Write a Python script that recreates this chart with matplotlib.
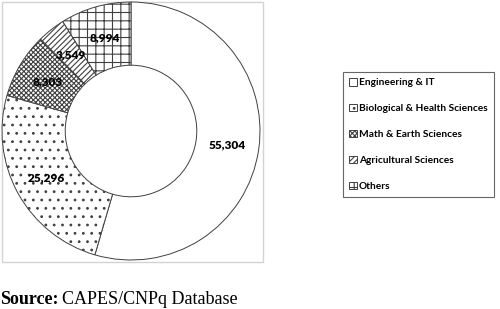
import matplotlib
matplotlib.use("Agg")
import matplotlib.pyplot as plt
from matplotlib.patches import Rectangle

categories = ["Engineering & IT", "Biological & Health Sciences",
              "Math & Earth Sciences", "Agricultural Sciences", "Others"]
values = [55304, 25296, 8303, 3549, 8994]
value_labels = ["55,304", "25,296", "8,303", "3,549", "8,994"]
hatches = ["", "..", "xxxxxxx", "//////", "++"]

plt.rcParams['hatch.linewidth'] = 0.8

W, H = 500, 309
fig = plt.figure(figsize=(W / 100, H / 100), dpi=100)

cx, cy, R = 131, 131, 129
ax = fig.add_axes([(cx - R) / W, (H - cy - R) / H, 2 * R / W, 2 * R / H])

lab_iter = iter(value_labels)
wedges, _, autotexts = ax.pie(
    values, startangle=90, counterclock=False, radius=1,
    autopct=lambda p: next(lab_iter), pctdistance=0.75,
    wedgeprops=dict(width=0.49, edgecolor='#404040', linewidth=0.7,
                    facecolor='white'),
    textprops=dict(family='Lato', weight='heavy', size=8.5, color='black'))
for w, h in zip(wedges, hatches):
    w.set_hatch(h)
    w.set_clip_on(False)
ax.set_xlim(-1, 1)
ax.set_ylim(-1, 1)

# chart frame
frame = Rectangle((2 / W, (H - 262) / H), 261 / W, 260 / H,
                  transform=fig.transFigure, fill=False,
                  edgecolor='#d3d3d3', lw=1.0, zorder=-1)
fig.patches.append(frame)

leg = fig.legend(wedges, categories, loc='upper left',
                 bbox_to_anchor=(343 / W, 1 - 72 / H),
                 prop=dict(family='Lato', weight='bold', size=7.3),
                 frameon=True, fancybox=False, edgecolor='#404040',
                 handlelength=0.75, handleheight=0.75, handletextpad=0.2,
                 labelspacing=1.65, borderpad=0.6, borderaxespad=0)
leg.get_frame().set_linewidth(0.8)

t1 = fig.text(0.0, 1 - 299 / H, "Source:", family='Liberation Serif',
              weight='bold', size=13, va='center', ha='left')
fig.canvas.draw()
bb = t1.get_window_extent()
fig.text(bb.x1 / W + 4 / W, 1 - 299 / H, "CAPES/CNPq Database",
         family='Liberation Serif', size=13, va='center', ha='left')

fig.savefig("out.png", dpi=100)
